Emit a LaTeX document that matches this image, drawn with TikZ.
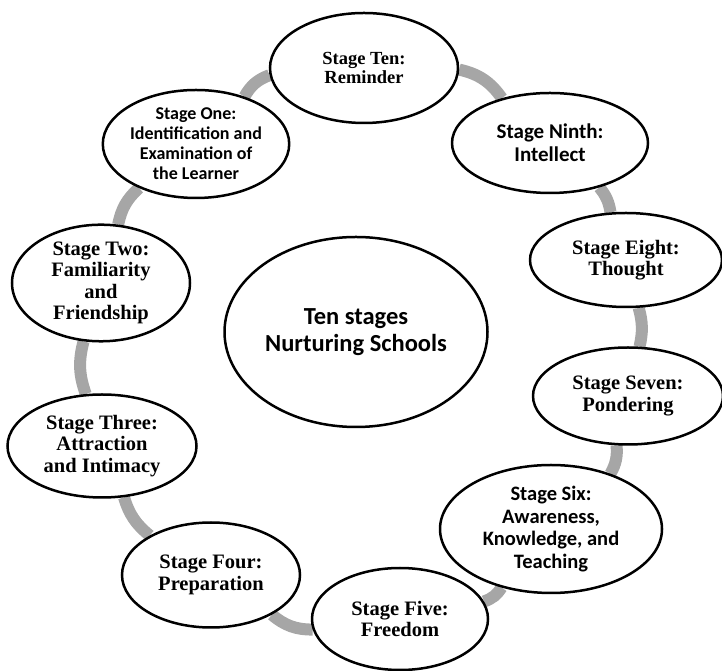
\documentclass[tikz,border=0pt]{standalone}
\usepackage{fontspec}
\setmainfont{Liberation Serif}
\newfontfamily\calib{Carlito}
\usetikzlibrary{shapes.geometric,backgrounds}
\definecolor{ringgray}{HTML}{A6A6A6}

\begin{document}
\begin{tikzpicture}[x=1pt,y=1pt]
    \tikzset{stage/.style = {shape=ellipse, draw, line width=2.5pt, fill=white, align=center, inner sep=0pt}}
    \tikzset{serifbox/.style = {stage, font=\bfseries\fontsize{20.5}{21.5}\selectfont}}
    \tikzset{sansbox/.style = {stage, font=\calib\bfseries\fontsize{20.5}{22.5}\selectfont}}
    \tikzset{edge/.style = {draw=ringgray, line width=12pt, -}}

    \useasboundingbox (0,0) rectangle (722,671);

    % vertices
    \node[serifbox, minimum width=188, minimum height=110, font=\bfseries\fontsize{18.5}{18.5}\selectfont] (s10) at (364,603) {Stage Ten:\\Reminder};
    \node[sansbox, minimum width=196, minimum height=100, font=\calib\bfseries\fontsize{21}{23}\selectfont] (s9) at (550,528) {Stage Ninth:\\Intellect};
    \node[serifbox, minimum width=192, minimum height=94] (s8) at (626,411) {Stage Eight:\\Thought};
    \node[serifbox, minimum width=190, minimum height=97] (s7) at (628,275) {Stage Seven:\\Pondering};
    \node[sansbox, minimum width=222, minimum height=128] (s6) at (551,142) {Stage Six:\\Awareness,\\Knowledge, and\\Teaching};
    \node[serifbox, minimum width=176, minimum height=102] (s5) at (400,52) {Stage Five:\\Freedom};
    \node[serifbox, minimum width=178, minimum height=105] (s4) at (211,96) {Stage Four:\\Preparation};
    \node[serifbox, minimum width=189, minimum height=103] (s3) at (102,225) {Stage Three:\\Attraction\\and Intimacy};
    \node[serifbox, minimum width=178, minimum height=107] (s2) at (101,388) {Stage Two:\\Familiarity\\and\\Friendship};
    \node[sansbox, minimum width=180, minimum height=108, font=\calib\bfseries\fontsize{18}{20}\selectfont] (s1) at (196,527) {Stage One:\\Identification and\\Examination of\\the Learner};
    \node[stage, minimum width=263, minimum height=190, font=\calib\bfseries\fontsize{24.5}{27}\selectfont] (hub) at (356,339) {Ten stages\\Nurturing Schools};

    % edges
    \begin{pgfonlayer}{background}
    \draw[edge] (s10) to[bend left=21] (s9);
    \draw[edge] (s9) to[bend left=15] (s8);
    \draw[edge] (s8) to[bend left=14] (s7);
    \draw[edge] (s7) to[bend left=17] (s6);
    \draw[edge] (s6) to[bend left=19] (s5);
    \draw[edge] (s5) to[bend left=20] (s4);
    \draw[edge] (s4) to[bend left=17] (s3);
    \draw[edge] (s3) to[bend left=17] (s2);
    \draw[edge] (s2) to[bend left=18] (s1);
    \draw[edge] (s1) to[bend left=20] (s10);
    \end{pgfonlayer}
\end{tikzpicture}
\end{document}
